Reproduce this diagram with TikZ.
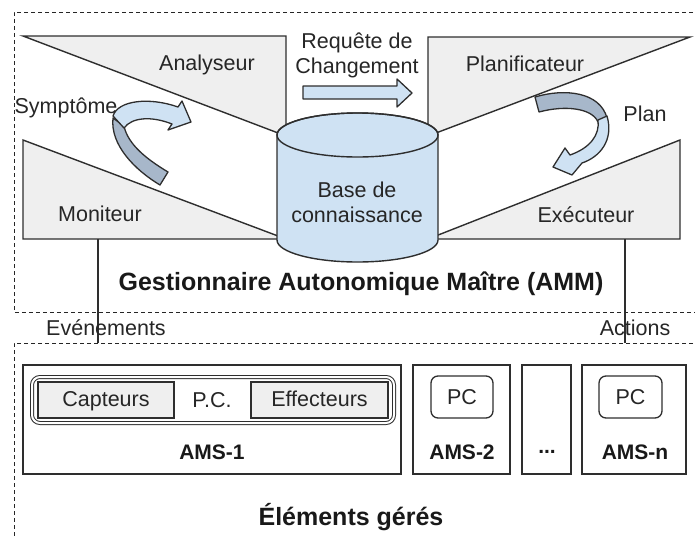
\documentclass[tikz,border=0pt]{standalone}
\usepackage{fontspec}
\setmainfont{Liberation Sans}
\usetikzlibrary{arrows.meta,positioning}
\definecolor{boxgray}{HTML}{EFEFEF}
\definecolor{kbblue}{HTML}{CFE2F3}
\definecolor{backblue}{HTML}{A7B7CA}
\definecolor{linegray}{HTML}{2E2E2E}

\begin{document}
\begin{tikzpicture}[x=1pt,y=-1pt,
  wedge/.style={draw=linegray,line width=1.4pt,fill=boxgray},
  zone/.style={draw=black!85,line width=0.9pt,dash pattern=on 4pt off 3pt},
  lbl/.style={font=\fontsize{21.5}{25}\selectfont,text=black!85,inner sep=0pt},
  ttl/.style={font=\fontsize{25}{30}\selectfont\bfseries,text=black!90,inner sep=0pt},
  ams/.style={font=\fontsize{21}{25}\selectfont\bfseries,text=black!90,inner sep=0pt},
  amsbox/.style={draw=linegray,line width=1.3pt,inner sep=0pt},
  pcbox/.style={draw=linegray,line width=1.3pt,rounded corners=7pt,inner sep=0pt},
  part/.style={draw=linegray,line width=1.3pt,fill=boxgray,minimum height=36,inner sep=0pt,
    text height=15pt,text depth=3pt,font=\fontsize{21.5}{25}\selectfont,text=black!85},
  front/.style={draw=linegray,line width=1.3pt,fill=kbblue,line join=round},
  back/.style={draw=linegray,line width=1.3pt,fill=backblue,line join=round}]
  \useasboundingbox (0,0) rectangle (695,538);
  \clip (0,0) rectangle (695,538);

  % zones
  \draw[zone] (700,12) -- (14,12) -- (14,312) -- (700,312);
  \draw[zone] (700,343) -- (14,343) -- (14,545);

  % MAPE
  \draw[wedge] (23,36) -- (286,36) -- (286,136) -- cycle;
  \draw[wedge] (23,140) -- (23,239) -- (286,239) -- cycle;
  \draw[wedge] (428,37) -- (690,37) -- (428,136) -- cycle;
  \draw[wedge] (680,140) -- (680,239) -- (428,239) -- cycle;

  \draw[front,line width=1.4pt] (277,135) -- (277,240) arc[start angle=180,end angle=0,x radius=80.5,y radius=22]
    -- (438,135) arc[start angle=0,end angle=-180,x radius=80.5,y radius=22] -- cycle;
  \draw[line width=1.4pt,draw=linegray] (357.5,135) ellipse[x radius=80.5,y radius=22];

  \node[lbl] (analyseur) at (207,65) {Analyseur};
  \node[lbl] (moniteur) at (100,214) {Moniteur};
  \node[lbl] (planif) at (525,64) {Planificateur};
  \node[lbl] (executeur) at (586,215) {Exécuteur};
  \node[lbl] (symptome) at (66,108) {Symptôme};
  \node[lbl] (plan) at (645,114) {Plan};
  \node[lbl,align=center] (requete) at (357,55) {Requête de\\Changement};
  \node[lbl,align=center] (base) at (357,202) {Base de\\connaissance};

  \draw[front] (303,86) -- (397,86) -- (397,79) -- (412,93) -- (397,107) -- (397,99) -- (303,99) -- cycle;

  \draw[back] (113,118) .. controls (110,145) and (135,170) .. (160,185) -- (168,172)
    .. controls (148,160) and (128,145) .. (124,126) -- cycle;
  \draw[front] (113,116) .. controls (118,100) and (150,97) .. (178,107) -- (182,101) -- (191,122)
    -- (168,130) -- (172,124) .. controls (152,116) and (132,117) .. (124,128) -- cycle;

  \draw[back] (535,97) .. controls (565,88) and (600,92) .. (607,118) -- (598,122)
    .. controls (592,108) and (565,105) .. (539,112) -- cycle;
  \draw[front] (607,116) .. controls (614,140) and (600,157) .. (582,163) -- (572,175) -- (553,167)
    -- (565,148) -- (570,155) .. controls (590,148) and (600,135) .. (598,120) -- cycle;

  \node[ttl] (amm) at (361,284) {Gestionnaire Autonomique Maître (AMM)};

  % liens
  \coordinate (mon-out) at (98,239);
  \coordinate (evt-in) at (98,343);
  \coordinate (exe-out) at (625,239);
  \coordinate (act-in) at (625,343);
  \draw[line width=1.1pt,draw=linegray] (mon-out) -- (evt-in);
  \draw[line width=1.1pt,draw=linegray] (exe-out) -- (act-in);
  \node[lbl] (evt) at (106,328) {Evénements};
  \node[lbl] (act) at (635,328) {Actions};

  % elements geres
  \node[amsbox,minimum width=378,minimum height=109] (ams1) at (212,419.5) {};
  \node[amsbox,minimum width=97,minimum height=109] (ams2) at (461.5,419.5) {};
  \node[amsbox,minimum width=49,minimum height=109] (amsdots) at (546.5,419.5) {};
  \node[amsbox,minimum width=104,minimum height=109] (amsn) at (634,419.5) {};

  \node[draw=linegray,line width=1pt,double,double distance=2pt,rounded corners=8pt,
    minimum width=362,minimum height=46,inner sep=0pt] (pc1) at (213,400) {};
  \node[part,minimum width=136] (capteurs) at (106,400) {Capteurs};
  \node[part,minimum width=137] (effecteurs) at (319.5,400) {Effecteurs};
  \node[lbl] (pc1txt) at (212,400) {P.C.};
  \node[pcbox,lbl,minimum width=62,minimum height=42] (pc2) at (462,397) {PC};
  \node[pcbox,lbl,minimum width=63,minimum height=42] (pcn) at (630.5,397) {PC};

  \node[ams] (ams1txt) at (212,452) {AMS-1};
  \node[ams] (ams2txt) at (462,452) {AMS-2};
  \node[ams] (dotstxt) at (547,452) {...};
  \node[ams] (amsntxt) at (635,452) {AMS-n};

  \node[ttl] (elem) at (351,517) {Éléments gérés};
\end{tikzpicture}
\end{document}
